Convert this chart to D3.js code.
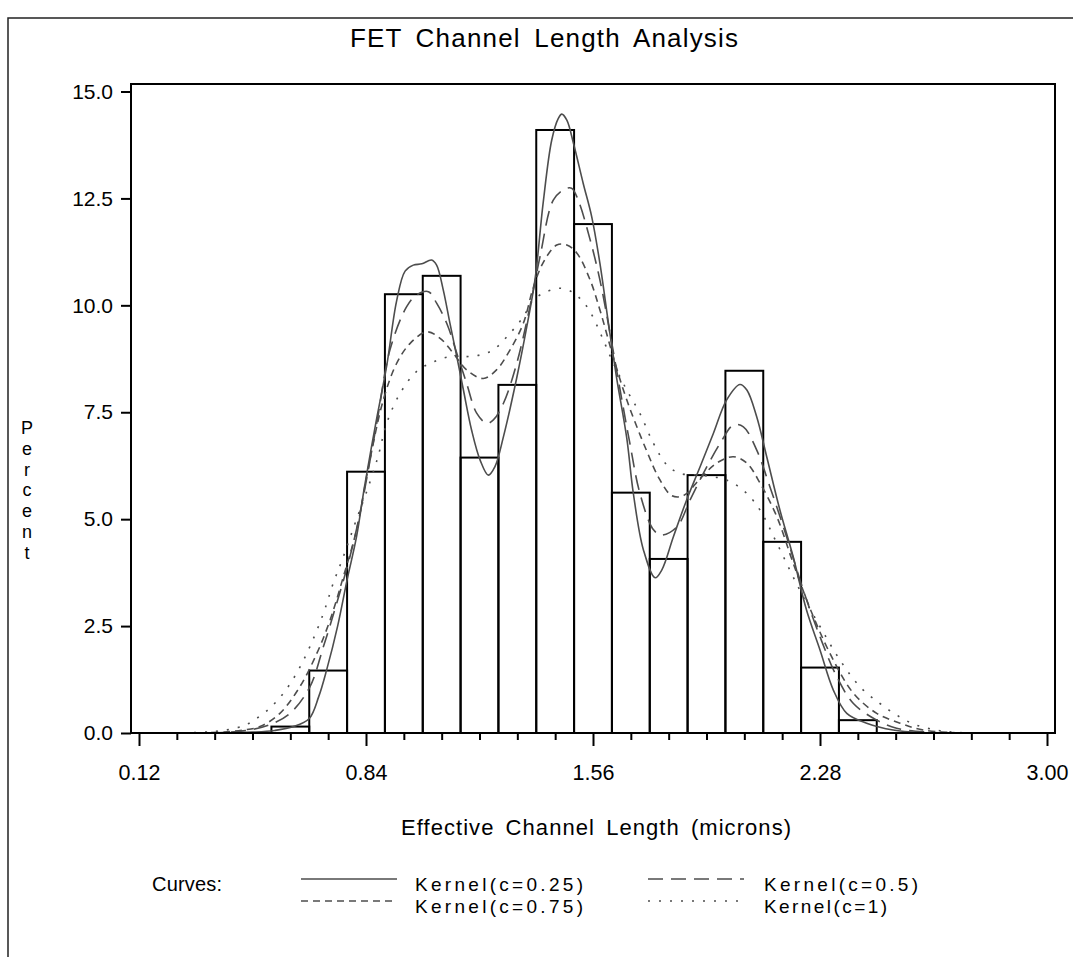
<!DOCTYPE html>
<html><head><meta charset="utf-8">
<script src="https://cdn.jsdelivr.net/npm/d3@7"></script>
<style>
body{margin:0;background:#fff}
svg{display:block}
text{font-family:'Liberation Sans',Arial,Helvetica,sans-serif;fill:#000}
</style>
</head><body>
<svg id="c" width="1073" height="957"></svg>
<script>
// ---------- data ----------
const binMidpoints = [0.60,0.72,0.84,0.96,1.08,1.20,1.32,1.44,1.56,1.68,1.80,1.92,2.04,2.16,2.28,2.40];
const binPercents  = [0.15,1.46,6.11,10.26,10.69,6.44,8.14,14.10,11.90,5.62,4.07,6.03,8.47,4.47,1.53,0.30];
const binWidth = 0.12;

const xMajorTicks = [0.12,0.84,1.56,2.28,3.00];
const xMinorTicks = [0.24,0.36,0.48,0.60,0.72,0.96,1.08,1.20,1.32,1.44,1.68,1.80,1.92,2.04,2.16,2.40,2.52,2.64,2.76,2.88];
const yTicks = [0,2.5,5,7.5,10,12.5,15];

const kernelC025 = [[0.12,0],[0.40,0],[0.48,0.02],[0.55,0.06],[0.61,0.15],[0.66,0.34],[0.69,0.85],[0.715,1.47],[0.75,2.5],[0.78,3.58],[0.81,4.59],[0.835,5.75],[0.87,7.2],[0.906,8.6],[0.937,10.1],[0.964,10.8],[0.99,10.94],[1.017,10.97],[1.048,11.06],[1.064,10.94],[1.085,10.36],[1.106,9.59],[1.128,8.80],[1.149,8.02],[1.175,7.08],[1.202,6.38],[1.228,6.03],[1.249,6.23],[1.276,6.93],[1.318,8.3],[1.35,9.5],[1.376,10.6],[1.402,12.4],[1.429,13.86],[1.45,14.37],[1.461,14.47],[1.477,14.33],[1.498,13.79],[1.529,12.85],[1.556,12.07],[1.582,10.98],[1.609,9.58],[1.635,8.3],[1.667,6.9],[1.688,5.6],[1.72,4.28],[1.757,3.63],[1.778,3.81],[1.815,4.59],[1.857,5.45],[1.9,6.23],[1.942,7.01],[1.984,7.79],[2.026,8.15],[2.048,8.02],[2.079,7.40],[2.111,6.46],[2.153,5.21],[2.195,4.12],[2.237,2.88],[2.28,1.94],[2.322,1.01],[2.365,0.46],[2.428,0.23],[2.512,0.07],[2.6,0.01],[2.7,0],[3.0,0]];

const kernelC050 = [[0.12,0],[0.35,0],[0.45,0.05],[0.53,0.18],[0.599,0.46],[0.662,1.08],[0.705,2.02],[0.747,3.03],[0.789,4.12],[0.821,5.14],[0.874,7.24],[0.916,8.96],[0.969,9.97],[1.0,10.24],[1.038,10.32],[1.064,10.05],[1.096,9.58],[1.128,8.88],[1.159,8.18],[1.191,7.48],[1.223,7.24],[1.244,7.32],[1.276,7.71],[1.318,8.64],[1.36,9.97],[1.392,11.14],[1.434,12.46],[1.466,12.70],[1.492,12.74],[1.513,12.46],[1.551,11.53],[1.582,10.59],[1.614,9.35],[1.646,8.02],[1.677,6.77],[1.709,5.6],[1.752,4.75],[1.778,4.63],[1.826,4.82],[1.868,5.45],[1.91,6.07],[1.963,6.77],[2.005,7.2],[2.037,7.16],[2.079,6.62],[2.121,5.76],[2.174,4.59],[2.227,3.34],[2.28,2.25],[2.333,1.32],[2.386,0.69],[2.46,0.30],[2.523,0.11],[2.62,0.02],[2.72,0],[3.0,0]];

const kernelC075 = [[0.12,0],[0.30,0],[0.40,0.03],[0.45,0.07],[0.504,0.15],[0.567,0.46],[0.63,1.08],[0.684,1.86],[0.726,2.64],[0.768,3.65],[0.81,4.75],[0.85,6.3],[0.895,7.79],[0.937,8.64],[0.98,9.11],[1.033,9.38],[1.075,9.23],[1.117,8.88],[1.159,8.49],[1.212,8.29],[1.254,8.49],[1.297,8.96],[1.339,9.58],[1.37,10.4],[1.402,11.0],[1.445,11.41],[1.477,11.41],[1.509,11.22],[1.551,10.59],[1.582,9.89],[1.624,8.80],[1.667,7.79],[1.73,6.6],[1.77,5.95],[1.81,5.55],[1.847,5.55],[1.9,5.95],[1.952,6.31],[2.005,6.46],[2.048,6.31],[2.09,5.84],[2.143,5.06],[2.195,3.97],[2.259,2.72],[2.322,1.71],[2.386,0.93],[2.46,0.46],[2.534,0.23],[2.6,0.08],[2.7,0.01],[2.8,0],[3.0,0]];

const kernelC100 = [[0.12,0],[0.25,0],[0.33,0.02],[0.377,0.05],[0.43,0.12],[0.462,0.2],[0.493,0.34],[0.535,0.58],[0.578,0.93],[0.62,1.4],[0.662,2.02],[0.705,2.8],[0.736,3.50],[0.768,4.12],[0.81,5.0],[0.84,5.6],[0.878,6.46],[0.906,7.25],[0.948,7.94],[1.0,8.45],[1.054,8.68],[1.106,8.80],[1.159,8.80],[1.202,8.84],[1.244,8.96],[1.297,9.35],[1.339,9.73],[1.37,10.12],[1.413,10.32],[1.455,10.40],[1.492,10.32],[1.524,10.12],[1.551,9.85],[1.588,9.27],[1.62,8.72],[1.667,8.02],[1.709,7.47],[1.752,6.77],[1.794,6.27],[1.836,6.07],[1.9,6.03],[1.963,5.96],[2.005,5.84],[2.048,5.6],[2.09,5.21],[2.143,4.44],[2.216,3.34],[2.28,2.49],[2.343,1.71],[2.407,1.08],[2.47,0.69],[2.523,0.42],[2.58,0.2],[2.64,0.08],[2.7,0.02],[2.8,0],[3.0,0]];

const seriesNames = ["Kernel(c=0.25)","Kernel(c=0.5)","Kernel(c=0.75)","Kernel(c=1)"];
const seriesData  = [kernelC025, kernelC050, kernelC075, kernelC100];
const seriesDash  = [null, "15,8", "7,5", "2,9"];

// ---------- layout ----------
const svg = d3.select("#c");
const frame = {left:131, right:1055, top:84, bottom:733};
const x = d3.scaleLinear().domain([0.12, 3.00]).range([139, 1047]);
const y = d3.scaleLinear().domain([0, 15]).range([733, 91.5]);
const ink = "#000", curveInk = "#4d4d4d";

// outer page border (partial)
svg.append("path").attr("d","M8,957V18H1073").attr("fill","none").attr("stroke","#222").attr("stroke-width",1.5);

// title
svg.append("text").attr("x",544).attr("y",47).attr("text-anchor","middle")
  .style("font-size","26px").style("word-spacing","5px")
  .attr("textLength",388).attr("lengthAdjust","spacing")
  .text("FET Channel Length Analysis");

// bars
svg.append("g").selectAll("rect").data(binMidpoints).join("rect")
  .attr("x", d => x(d - binWidth/2))
  .attr("width", d => x(d + binWidth/2) - x(d - binWidth/2))
  .attr("y", (d,i) => y(binPercents[i]))
  .attr("height", (d,i) => y(0) - y(binPercents[i]))
  .attr("fill","none").attr("stroke",ink).attr("stroke-width",2);

// curves
const line = d3.line().x(d => x(d[0])).y(d => y(d[1])).curve(d3.curveCatmullRom.alpha(0.5));
seriesData.forEach((s,i) => {
  svg.append("path").datum(s).attr("d", line)
    .attr("fill","none").attr("stroke",curveInk).attr("stroke-width",1.6)
    .attr("stroke-dasharray", seriesDash[i]);
});

// frame
svg.append("rect").attr("x",frame.left).attr("y",frame.top)
  .attr("width",frame.right-frame.left).attr("height",frame.bottom-frame.top)
  .attr("fill","none").attr("stroke",ink).attr("stroke-width",2);

// y axis
const yAx = svg.append("g").attr("transform",`translate(${frame.left},0)`)
  .call(d3.axisLeft(y).tickValues(yTicks).tickFormat(d3.format(".1f")).tickSize(10).tickPadding(8));
yAx.select(".domain").remove();
yAx.selectAll("line").attr("stroke",ink).attr("stroke-width",2);
yAx.selectAll("text").style("font-size","21px").attr("font-family",null);

// x axis minor
const xMin = svg.append("g").attr("transform",`translate(0,${frame.bottom})`)
  .call(d3.axisBottom(x).tickValues(xMinorTicks).tickSize(7).tickFormat(""));
xMin.select(".domain").remove();
xMin.selectAll("line").attr("stroke",ink).attr("stroke-width",2);
// x axis major
const xAx = svg.append("g").attr("transform",`translate(0,${frame.bottom})`)
  .call(d3.axisBottom(x).tickValues(xMajorTicks).tickSize(13).tickPadding(19).tickFormat(d3.format(".2f")));
xAx.select(".domain").remove();
xAx.selectAll("line").attr("stroke",ink).attr("stroke-width",2);
xAx.selectAll("text").style("font-size","21.5px").attr("font-family",null);
svg.selectAll(".tick text").attr("fill",ink);

// axis labels
svg.append("text").attr("x",596).attr("y",835).attr("text-anchor","middle")
  .style("font-size","22px").style("word-spacing","4px")
  .attr("textLength",390).attr("lengthAdjust","spacing")
  .text("Effective Channel Length (microns)");
const yLabelText = svg.append("text").attr("text-anchor","middle").style("font-size","18px");
yLabelText.selectAll("tspan").data("Percent".split("")).join("tspan")
  .attr("x",27).attr("y",(d,i)=>434 + i*20.8).text(d=>d);

// legend
svg.append("text").attr("x",152).attr("y",891).style("font-size","20px")
  .attr("textLength",70).attr("lengthAdjust","spacing").text("Curves:");
const legendPos = [[301,879,415],[648,879,764],[301,901,415],[648,901,764]];
const legendWidths = [168,154,168,123];
seriesNames.forEach((name,i) => {
  const [lx, ly, tx] = legendPos[i];
  svg.append("line").attr("x1",lx).attr("x2",lx+96).attr("y1",ly).attr("y2",ly)
    .attr("stroke",curveInk).attr("stroke-width",1.6).attr("stroke-dasharray",seriesDash[i]);
  svg.append("text").attr("x",tx).attr("y",ly+12).style("font-size","19px")
    .attr("textLength",legendWidths[i]).attr("lengthAdjust","spacing").text(name);
});
</script>
</body></html>
